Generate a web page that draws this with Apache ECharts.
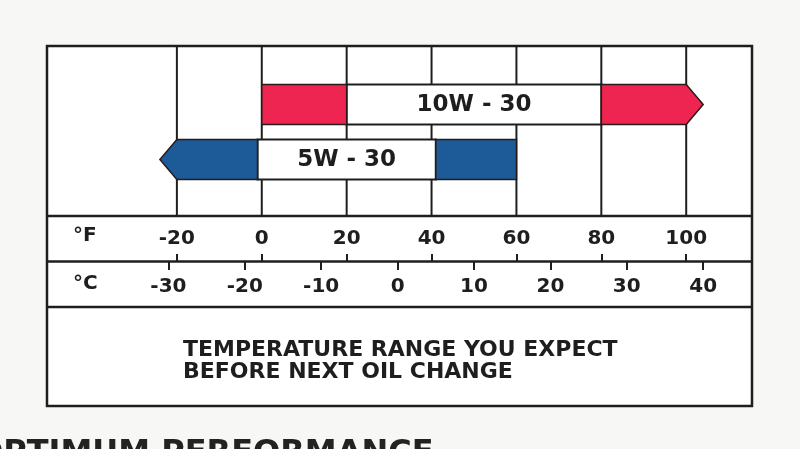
<!DOCTYPE html>
<html>
<head>
<meta charset="utf-8">
<script src="https://cdn.jsdelivr.net/npm/echarts@6/dist/echarts.min.js"></script>
<style>
html,body{margin:0;padding:0;background:#f7f7f5;}
#chart{width:800px;height:449px;}
</style>
</head>
<body>
<div id="chart"></div>
<script>
// ---- data ----
const grades = ['10W - 30', '5W - 30'];
const tipLowF = [0, -24];        // left end (arrow tip if arrow)
const bodyLowF = [0, -20];       // left end of bar body
const lowBandEndF = [20, -1];    // end of coloured low-temperature block
const highBandStartF = [80, 41]; // start of coloured high-temperature block
const bodyHighF = [100, 60];     // right end of bar body
const tipHighF = [104, 60];      // right end (arrow tip if arrow)
const gradeColors = ['#ef2551', '#1d5b98'];
const fTicks = [-20, 0, 20, 40, 60, 80, 100];
const cTicks = [-30, -20, -10, 0, 10, 20, 30, 40];
const fMin = -50.6, fMax = 115.5;
const cMin = (fMin - 32) * 5 / 9, cMax = (fMax - 32) * 5 / 9;
const captionLines = ['TEMPERATURE RANGE YOU EXPECT', 'BEFORE NEXT OIL CHANGE'];

const FONT = 'DejaVu Sans';
const INK = '#1e1e1e';

const barData = grades.map((g, i) => [i, tipLowF[i], bodyLowF[i], lowBandEndF[i], highBandStartF[i], bodyHighF[i], tipHighF[i]]);

const chart = echarts.init(document.getElementById('chart'), null, {renderer: 'canvas'});

function renderBar(params, api) {
  const idx = api.value(0);
  const X = v => api.coord([v, idx])[0];
  const cy = api.coord([0, idx])[1];
  const h = 40;
  const top = cy - h / 2, bot = cy + h / 2;
  const xTipL = X(api.value(1)), xBodyL = X(api.value(2));
  const xLowEnd = X(api.value(3)), xHighStart = X(api.value(4));
  const xBodyR = X(api.value(5)), xTipR = X(api.value(6));
  const color = gradeColors[idx];
  const leftShape = (xTipL < xBodyL)
    ? [[xLowEnd, top], [xBodyL, top], [xTipL, cy], [xBodyL, bot], [xLowEnd, bot]]
    : [[xLowEnd, top], [xBodyL, top], [xBodyL, bot], [xLowEnd, bot]];
  const rightShape = (xTipR > xBodyR)
    ? [[xHighStart, top], [xBodyR, top], [xTipR, cy], [xBodyR, bot], [xHighStart, bot]]
    : [[xHighStart, top], [xBodyR, top], [xBodyR, bot], [xHighStart, bot]];
  const whole = [[xLowEnd, top], [xHighStart, top], [xHighStart, bot], [xLowEnd, bot]];
  return {
    type: 'group',
    children: [
      {type: 'polygon', shape: {points: whole}, style: {fill: '#ffffff', stroke: INK, lineWidth: 2}},
      {type: 'polygon', shape: {points: leftShape}, style: {fill: color, stroke: '#2a1a1a', lineWidth: 1.5}},
      {type: 'polygon', shape: {points: rightShape}, style: {fill: color, stroke: '#2a1a1a', lineWidth: 1.5}},
      {type: 'text', x: (xLowEnd + xHighStart) / 2, y: cy + 1,
        style: {text: grades[idx], fill: INK, font: 'bold 23px ' + FONT, align: 'center', verticalAlign: 'middle'}}
    ]
  };
}

function renderVLine(params, api) {
  const x = api.coord([api.value(0), 0])[0];
  const y0 = api.coord([api.value(0), 0])[1];
  const y1 = api.coord([api.value(0), 1])[1];
  return {type: 'line', shape: {x1: x, y1: y0, x2: x, y2: y1}, style: {stroke: INK, lineWidth: 2}};
}

const L = 47, R = 48;
const option = {
  backgroundColor: '#f7f7f5',
  animation: false,
  grid: [
    {left: L, right: R, top: 77, height: 110},   // bars
    {left: L, right: R, top: 46, height: 170},   // vertical grid lines
    {left: L, right: R, top: 261, height: 1}     // scales
  ],
  xAxis: [
    {type: 'value', gridIndex: 0, min: fMin, max: fMax, show: false},
    {type: 'value', gridIndex: 1, min: fMin, max: fMax, show: false},
    {type: 'value', gridIndex: 2, min: fMin, max: fMax, position: 'top',
      axisLine: {show: false}, splitLine: {show: false},
      axisTick: {show: true, length: 8, lineStyle: {color: INK, width: 2}, customValues: fTicks},
      axisLabel: {customValues: fTicks, margin: 12, color: INK, fontFamily: FONT, fontWeight: 'bold', fontSize: 20}},
    {type: 'value', gridIndex: 2, min: cMin, max: cMax, position: 'bottom',
      axisLine: {show: false}, splitLine: {show: false},
      axisTick: {show: true, length: 8, lineStyle: {color: INK, width: 2}, customValues: cTicks},
      axisLabel: {customValues: cTicks, margin: 15, color: INK, fontFamily: FONT, fontWeight: 'bold', fontSize: 20}}
  ],
  yAxis: [
    {type: 'category', gridIndex: 0, data: grades, inverse: true, show: false},
    {type: 'value', gridIndex: 1, min: 0, max: 1, show: false},
    {type: 'value', gridIndex: 2, min: 0, max: 1, show: false}
  ],
  graphic: [
    {type: 'rect', z: -10, shape: {x: 47, y: 46, width: 705, height: 360}, style: {fill: '#ffffff', stroke: INK, lineWidth: 2.5}},
    {type: 'line', z: 5, shape: {x1: 47, y1: 216, x2: 752, y2: 216}, style: {stroke: INK, lineWidth: 2.5}},
    {type: 'line', z: 5, shape: {x1: 47, y1: 261.5, x2: 752, y2: 261.5}, style: {stroke: INK, lineWidth: 2.5}},
    {type: 'line', z: 5, shape: {x1: 47, y1: 307, x2: 752, y2: 307}, style: {stroke: INK, lineWidth: 2.5}},
    {type: 'text', x: 73, y: 236, style: {text: '°F', fill: INK, font: 'bold 20px ' + FONT, verticalAlign: 'middle'}},
    {type: 'text', x: 73, y: 284, style: {text: '°C', fill: INK, font: 'bold 20px ' + FONT, verticalAlign: 'middle'}},
    {type: 'text', x: 183, y: 350, style: {text: captionLines[0], fill: INK, font: 'bold 22px ' + FONT, verticalAlign: 'middle'}},
    {type: 'text', x: 183, y: 372, style: {text: captionLines[1], fill: INK, font: 'bold 22px ' + FONT, verticalAlign: 'middle'}},
    {type: 'text', x: -24, y: 438, style: {text: 'OPTIMUM PERFORMANCE', fill: '#222', font: 'bold 32px ' + FONT, verticalAlign: 'top'}}
  ],
  series: [
    {type: 'custom', xAxisIndex: 1, yAxisIndex: 1, z: 1, data: fTicks.map(v => [v]), renderItem: renderVLine, silent: true},
    {type: 'custom', xAxisIndex: 0, yAxisIndex: 0, z: 3, data: barData, renderItem: renderBar, silent: true}
  ]
};
chart.setOption(option);
</script>
</body>
</html>
